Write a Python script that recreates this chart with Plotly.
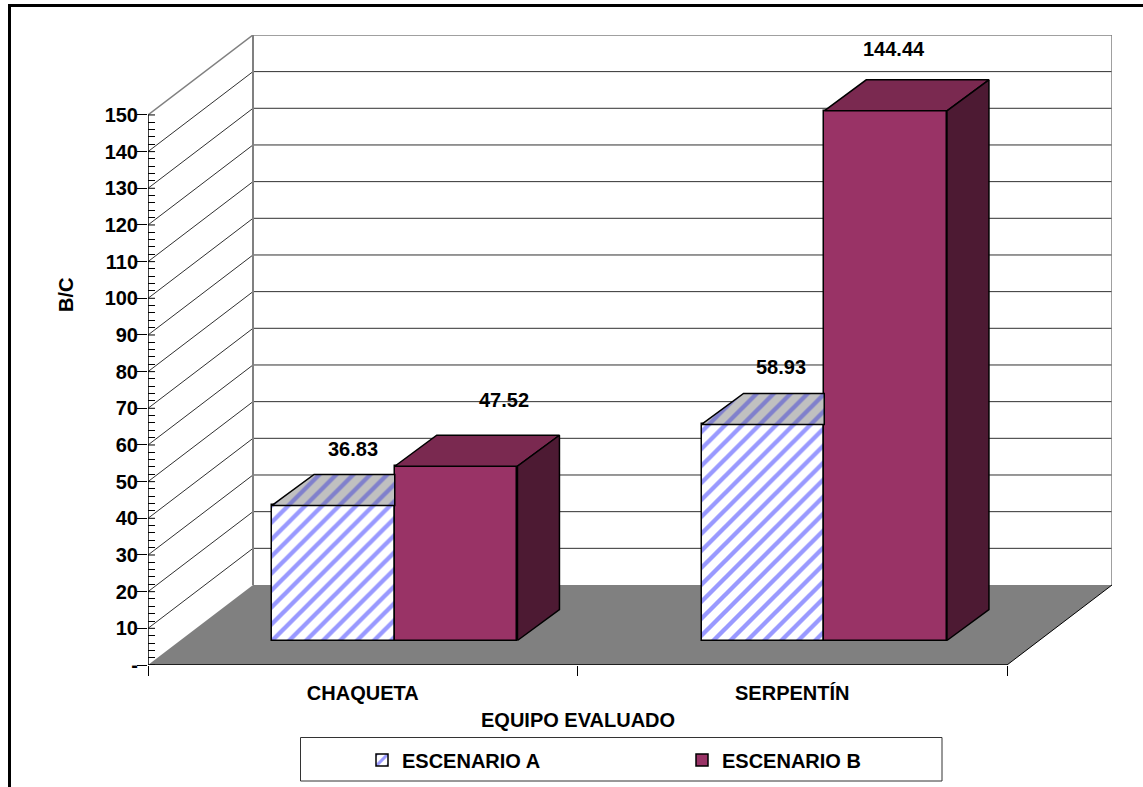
import plotly.graph_objects as go

# ---- data ----
categories = ["CHAQUETA", "SERPENTÍN"]
series_names = ["ESCENARIO A", "ESCENARIO B"]
escenario_a = [36.83, 58.93]
escenario_b = [47.52, 144.44]
y_ticks = list(range(0, 151, 10))
y_tick_labels = ["-"] + [str(v) for v in y_ticks[1:]]
x_title = "EQUIPO EVALUADO"
y_title = "B/C"

# ---- pixel frame of the plot area ----
W, H = 1143, 787
L, R, T, B = 148, 1112, 35, 665
PX_PER_CAT = 429.5
PX_PER_UNIT = 3.667
FONT = "Liberation Sans"
FS = 20


def ux(px):  # pixel distance to category units
    return px / PX_PER_CAT


def uy(px):  # pixel distance to value units
    return px / PX_PER_UNIT


def paper_x(px):
    return (px - L) / (R - L)


def paper_y(px):
    return (B - px) / (B - T)


WALL_X, WALL_Y = ux(105), uy(80)      # oblique depth of floor and walls
BAR_DX, BAR_DY = ux(42), uy(31)       # oblique depth of each bar
BAR_BASE = uy(24.5)                   # bar feet stand this far up the floor
BAR_W = ux(122.7)
SHIFT = ux(32)                        # bars slide right with the floor depth

centers = [i + 0.5 for i in range(len(categories))]
x_range = [0, (R - L) / PX_PER_CAT]
y_range = [0, (B - T) / PX_PER_UNIT]

# label offsets from each bar's front-top-centre, in pixels
label_dx_a, label_dy_a = [20, 18], [56, 57]
label_dx_b, label_dy_b = [48, 8], [66, 62]

PURPLE, PURPLE_TOP, PURPLE_SIDE = "#993366", "#7A2950", "#4D1A33"
STRIPE = dict(shape="/", fgcolor="#9999FF", bgcolor="#FFFFFF", fgopacity=1, size=12, solidity=0.36)
STRIPE_TOP = dict(shape="/", fgcolor="#8080CC", bgcolor="#C0C0C0", fgopacity=1, size=12, solidity=0.36)
EDGE = dict(color="#000000", width=1.5)

fig = go.Figure()
xa = [c + SHIFT - BAR_W / 2 for c in centers]
xb = [c + SHIFT + BAR_W / 2 for c in centers]

fig.add_trace(go.Bar(
    name=series_names[0], x=xa, y=escenario_a, base=BAR_BASE, width=BAR_W,
    marker=dict(color="#FFFFFF", pattern=STRIPE, line=EDGE), hoverinfo="name+y"))
fig.add_trace(go.Bar(
    name=series_names[1], x=xb, y=escenario_b, base=BAR_BASE, width=BAR_W,
    marker=dict(color=PURPLE, line=EDGE), hoverinfo="name+y"))


def poly(xs, ys, **kw):
    fig.add_trace(go.Scatter(
        x=xs + xs[:1], y=ys + ys[:1], mode="lines", fill="toself",
        line=dict(color="#000000", width=1.5), showlegend=False,
        hoverinfo="skip", **kw))


for xc, v in zip(xa, escenario_a):
    top = BAR_BASE + v
    x0, x1 = xc - BAR_W / 2, xc + BAR_W / 2
    # top face, its back-right part hidden behind the neighbouring bar
    poly([x0, x1, x1, x0 + BAR_DX], [top, top, top + BAR_DY, top + BAR_DY],
         fillpattern=STRIPE_TOP)

for xc, v in zip(xb, escenario_b):
    top = BAR_BASE + v
    x0, x1 = xc - BAR_W / 2, xc + BAR_W / 2
    poly([x0, x1, x1 + BAR_DX, x0 + BAR_DX], [top, top, top + BAR_DY, top + BAR_DY],
         fillcolor=PURPLE_TOP)
    poly([x1, x1 + BAR_DX, x1 + BAR_DX, x1],
         [BAR_BASE, BAR_BASE + BAR_DY, top + BAR_DY, top], fillcolor=PURPLE_SIDE)

# ---- floor, walls and grid ----
shapes = []


def line(x0, y0, x1, y1, color="#000000", width=1, xref="x", yref="y", layer="below"):
    shapes.append(dict(type="line", x0=x0, y0=y0, x1=x1, y1=y1, xref=xref, yref=yref,
                       layer=layer, line=dict(color=color, width=width)))


shapes.append(dict(
    type="path", xref="x", yref="y", layer="below", fillcolor="#808080",
    line=dict(width=0),
    path=f"M 0 0 L 2 0 L {2 + WALL_X} {WALL_Y} L {WALL_X} {WALL_Y} Z"))
for v in y_ticks[1:]:
    grey = v == y_ticks[-1]
    c = "#808080" if grey else "#303030"
    wd = 1.5 if grey else 1
    line(0, v, WALL_X, v + WALL_Y, c, wd)
    line(WALL_X, v + WALL_Y, WALL_X + 2, v + WALL_Y, c, wd)
line(WALL_X, WALL_Y, WALL_X, y_ticks[-1] + WALL_Y, "#808080", 2)
line(WALL_X + 2, WALL_Y, WALL_X + 2, y_ticks[-1] + WALL_Y, "#808080", 1.5)
line(0, 0, 2, 0, "#000000", 1.5)
line(2, 0, 2 + WALL_X, WALL_Y, "#000000", 1)
line(0, 0, 0, y_ticks[-1], "#000000", 1.5, layer="above")
for v in y_ticks:
    line(0, v, ux(7), v, "#000000", 1, layer="above")

# outer frame, running off the right and bottom of the page
shapes.append(dict(type="rect", xref="paper", yref="paper", layer="below",
                   x0=paper_x(9.5), x1=paper_x(W + 20), y0=paper_y(H + 20), y1=paper_y(5.5),
                   line=dict(color="#000000", width=3)))
# legend frame
shapes.append(dict(type="rect", xref="paper", yref="paper", layer="below",
                   x0=paper_x(300.5), x1=paper_x(942), y0=paper_y(781), y1=paper_y(737.5),
                   line=dict(color="#333333", width=1)))

# ---- texts ----
tfont = dict(family=FONT, size=FS, color="#000000", weight=700)
annotations = []
for xs, vals, dxs, dys in [(xa, escenario_a, label_dx_a, label_dy_a),
                           (xb, escenario_b, label_dx_b, label_dy_b)]:
    for xc, v, dx, dy in zip(xs, vals, dxs, dys):
        annotations.append(dict(x=xc + ux(dx), y=BAR_BASE + v + uy(dy), text=f"{v:.2f}",
                                showarrow=False, font=tfont, xref="x", yref="y",
                                xanchor="center", yanchor="middle"))
annotations.append(dict(x=paper_x(577.5), y=paper_y(720), xref="paper", yref="paper",
                        text=x_title, showarrow=False, font=tfont,
                        xanchor="center", yanchor="middle"))
annotations.append(dict(x=paper_x(66), y=paper_y(295), xref="paper", yref="paper",
                        text=y_title, showarrow=False, font=tfont, textangle=-90,
                        xanchor="center", yanchor="middle"))

fig.update_layout(
    width=W, height=H, autosize=False,
    margin=dict(l=L, r=W - R, t=T, b=H - B, pad=0),
    paper_bgcolor="#FFFFFF", plot_bgcolor="#FFFFFF",
    barmode="overlay", bargap=0,
    shapes=shapes, annotations=annotations,
    legend=dict(orientation="h", xref="container", yref="container",
                x=362 / W, xanchor="left", y=1 - 760 / H, yanchor="middle", font=tfont,
                entrywidth=275, entrywidthmode="pixels",
                bgcolor="rgba(0,0,0,0)", borderwidth=0, traceorder="normal"),
    xaxis=dict(range=x_range, tickmode="array", tickvals=centers, ticktext=categories,
               ticks="outside", ticklen=10, tickcolor="rgba(0,0,0,0)",
               tickfont=tfont, showgrid=False, zeroline=False, showline=False,
               fixedrange=True,
               minor=dict(tickmode="array", tickvals=[0, 1, 2], ticks="outside",
                          ticklen=10, tickcolor="#000000", tickwidth=1, showgrid=False)),
    yaxis=dict(range=y_range, tickmode="array", tickvals=y_ticks, ticktext=y_tick_labels,
               ticks="outside", ticklen=10, tickcolor="#000000", tickwidth=1,
               ticklabelstandoff=-5,
               tickfont=tfont, showgrid=False, zeroline=False, showline=False,
               fixedrange=True,
               minor=dict(tickmode="array",
                          tickvals=[v for v in range(2, 150, 2) if v % 10],
                          ticks="inside", ticklen=7, tickcolor="#000000", tickwidth=1,
                          showgrid=False)),
)

fig.write_html("out.html", config={"displayModeBar": False},
               post_script="document.body.style.margin='0';document.body.style.overflow='hidden';")
